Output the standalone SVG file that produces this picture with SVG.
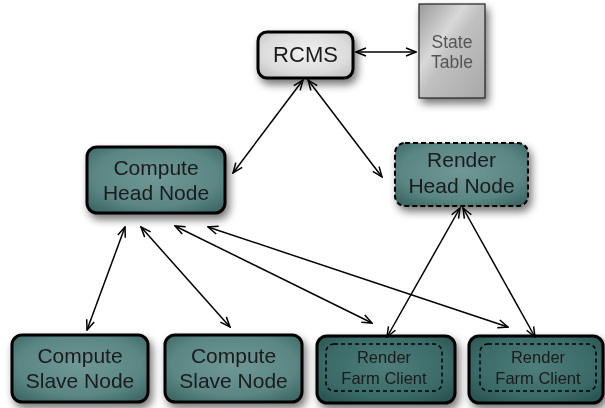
<svg xmlns="http://www.w3.org/2000/svg" width="605" height="408" viewBox="0 0 605 408">
<defs>
<style>
.lbl{font-family:"Liberation Sans",Arial,sans-serif;fill:#1a1a1a;text-anchor:middle}
.big{font-size:21px}
.sm{font-size:16.5px}
.st{font-size:17.5px;fill:#555}
.node{stroke:#000;stroke-width:3}
.dash{fill:none;stroke:#000;stroke-width:1.5;stroke-dasharray:4 3}
.conn line{stroke:#000;stroke-width:1.5;marker-start:url(#ah);marker-end:url(#ah)}
</style>
<marker id="ah" viewBox="0 0 12 10" refX="11" refY="5" markerWidth="12" markerHeight="10" markerUnits="userSpaceOnUse" orient="auto-start-reverse">
<path d="M1,1 L11,5 L1,9" fill="none" stroke="#000" stroke-width="1.5"/>
</marker>
<radialGradient id="teal" cx="50%" cy="45%" r="65%">
<stop offset="0" stop-color="#6f9896"/>
<stop offset="0.7" stop-color="#5a8683"/>
<stop offset="1" stop-color="#3f6a67"/>
</radialGradient>
<radialGradient id="dteal" cx="50%" cy="45%" r="65%">
<stop offset="0" stop-color="#4f7e7b"/>
<stop offset="0.7" stop-color="#3a6a67"/>
<stop offset="1" stop-color="#2a5552"/>
</radialGradient>
<radialGradient id="lgray" cx="50%" cy="45%" r="65%">
<stop offset="0" stop-color="#f0f0f0"/>
<stop offset="0.7" stop-color="#dcdcdc"/>
<stop offset="1" stop-color="#c4c4c4"/>
</radialGradient>
<linearGradient id="steel" x1="0" y1="0" x2="1" y2="1">
<stop offset="0" stop-color="#9a9a9a"/>
<stop offset="0.35" stop-color="#d8d8d8"/>
<stop offset="0.5" stop-color="#c0c0c0"/>
<stop offset="1" stop-color="#a8a8a8"/>
</linearGradient>
<filter id="sh" x="-20%" y="-20%" width="150%" height="160%">
<feGaussianBlur in="SourceAlpha" stdDeviation="4"/>
<feOffset dx="3" dy="5" result="b"/>
<feComponentTransfer><feFuncA type="linear" slope="0.55"/></feComponentTransfer>
<feMerge><feMergeNode/><feMergeNode in="SourceGraphic"/></feMerge>
</filter>
</defs>
<rect width="605" height="408" fill="#fff"/>

<g id="rcms" filter="url(#sh)">
<rect class="node" x="258" y="32" width="95" height="46" rx="9" fill="url(#lgray)"/>
<text class="lbl" x="305.5" y="62" font-size="22">RCMS</text>
</g>
<g id="state-table" filter="url(#sh)">
<rect x="419" y="4" width="66" height="94" fill="url(#steel)" stroke="#222" stroke-width="1.2"/>
<text class="lbl st" x="452" y="48">State</text>
<text class="lbl st" x="452" y="68">Table</text>
</g>
<g id="compute-head" filter="url(#sh)">
<rect class="node" x="87" y="147" width="138" height="66" rx="10" fill="url(#teal)"/>
<text class="lbl big" x="156" y="175">Compute</text>
<text class="lbl big" x="156" y="200">Head Node</text>
</g>
<g id="render-head" filter="url(#sh)">
<rect x="395" y="143" width="133" height="63" rx="10" fill="url(#teal)" stroke="#000" stroke-width="2" stroke-dasharray="5 3"/>
<text class="lbl big" x="461.5" y="167">Render</text>
<text class="lbl big" x="461.5" y="193">Head Node</text>
</g>
<g id="slave1" filter="url(#sh)">
<rect class="node" x="12" y="335" width="136" height="67" rx="10" fill="url(#teal)"/>
<text class="lbl big" x="80" y="363">Compute</text>
<text class="lbl big" x="80" y="388">Slave Node</text>
</g>
<g id="slave2" filter="url(#sh)">
<rect class="node" x="165" y="335" width="137" height="67" rx="10" fill="url(#teal)"/>
<text class="lbl big" x="233.5" y="363">Compute</text>
<text class="lbl big" x="233.5" y="388">Slave Node</text>
</g>
<g id="client1" filter="url(#sh)">
<rect class="node" x="317" y="336" width="138" height="67" rx="10" fill="url(#dteal)"/>
<rect class="dash" x="326" y="344" width="116" height="47" rx="8"/>
<text class="lbl sm" x="384" y="363">Render</text>
<text class="lbl sm" x="384" y="384">Farm Client</text>
</g>
<g id="client2" filter="url(#sh)">
<rect class="node" x="469" y="336" width="134" height="67" rx="10" fill="url(#dteal)"/>
<rect class="dash" x="480" y="344" width="116" height="47" rx="8"/>
<text class="lbl sm" x="538" y="363">Render</text>
<text class="lbl sm" x="538" y="384">Farm Client</text>
</g>

<g id="connectors" class="conn">
<line x1="356" y1="52" x2="416" y2="52"/>
<line x1="303" y1="80" x2="233" y2="173"/>
<line x1="308" y1="80" x2="382" y2="177"/>
<line x1="125" y1="227" x2="87" y2="330"/>
<line x1="141" y1="227" x2="230" y2="327"/>
<line x1="175" y1="226" x2="372" y2="323"/>
<line x1="208" y1="227" x2="508" y2="327"/>
<line x1="460" y1="208" x2="387" y2="337"/>
<line x1="463" y1="208" x2="535" y2="337"/>
</g>
</svg>
